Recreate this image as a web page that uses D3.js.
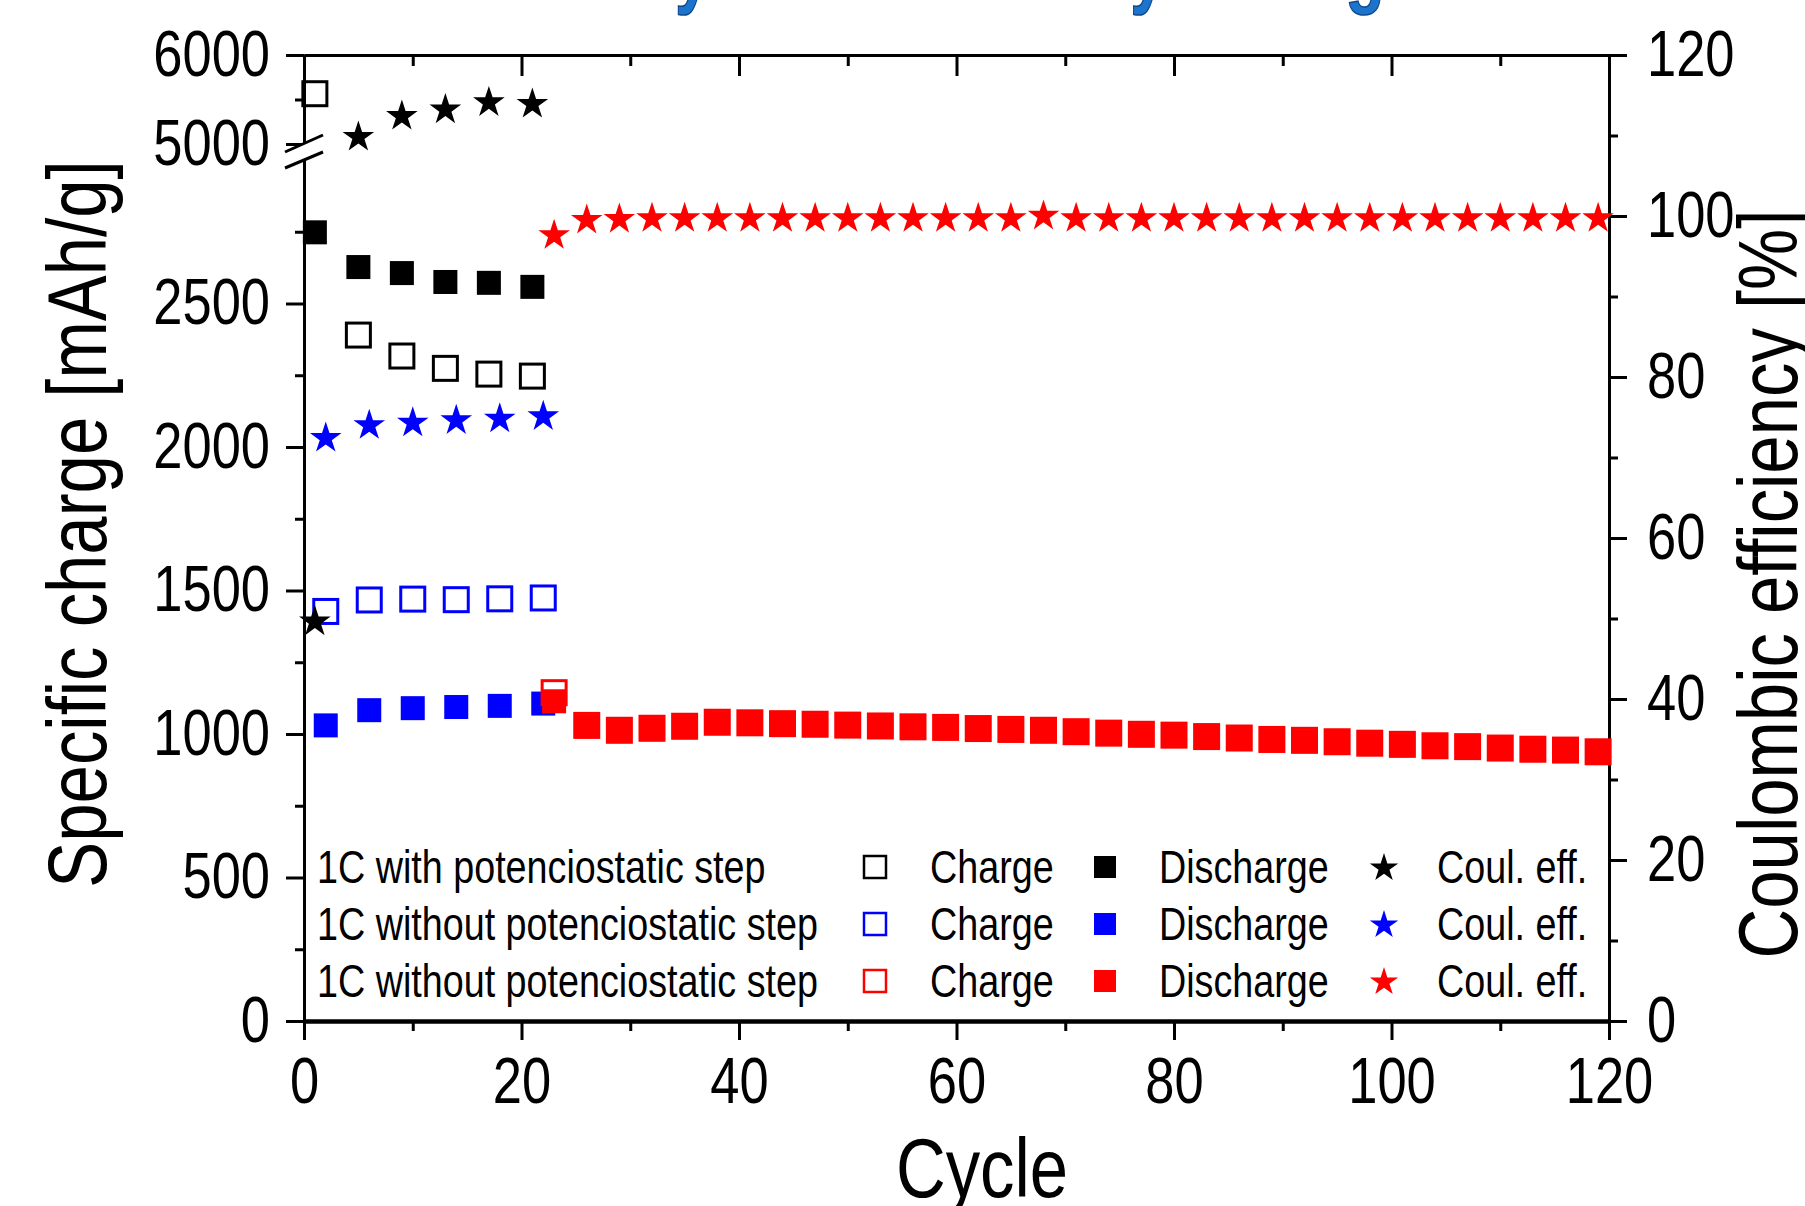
<!DOCTYPE html>
<html>
<head>
<meta charset="utf-8">
<script src="https://cdn.jsdelivr.net/npm/d3@7"></script>
<style>
  body { margin: 0; background: #fff; }
  text { font-family: "Liberation Sans", Arial, sans-serif; }
</style>
</head>
<body>
<script>
// ---------- data ----------
var blackCycles = [1, 5, 9, 13, 17, 21];
var blackCharge = [5565, 2390, 2317, 2274, 2254, 2247];
var blackDischarge = [2748, 2627, 2606, 2575, 2572, 2558];
var blackEff = [49.6, 109.8, 112.4, 113.2, 114.1, 113.9];

var blueCycles = [2, 6, 10, 14, 18, 22];
var blueCharge = [1427, 1467, 1470, 1468, 1471, 1474];
var blueDischarge = [1030, 1083, 1090, 1094, 1098, 1106];
var blueEff = [72.4, 74.0, 74.3, 74.6, 74.8, 75.1];

var redCycles = [23, 26, 29, 32, 35, 38, 41, 44, 47, 50, 53, 56, 59, 62, 65, 68, 71,
  74, 77, 80, 83, 86, 89, 92, 95, 98, 101, 104, 107, 110, 113, 116, 119];
var redCharge = [1144, 1030, 1013, 1020, 1027, 1041, 1039, 1036, 1034, 1031, 1028, 1025,
  1023, 1019, 1016, 1013, 1008, 1003, 999, 996, 991, 986, 981, 978, 973, 968, 964, 959,
  956, 951, 947, 944, 938];
var redDischarge = [1114, 1027, 1010, 1017, 1024, 1038, 1036, 1033, 1031, 1028, 1025, 1022,
  1020, 1016, 1013, 1010, 1005, 1000, 996, 993, 988, 983, 978, 975, 970, 965, 961, 956,
  953, 948, 944, 941, 935];
var redEff = [97.6, 99.5, 99.6, 99.7, 99.7, 99.7, 99.7, 99.7, 99.7, 99.7, 99.7, 99.7,
  99.7, 99.7, 99.7, 100.0, 99.7, 99.7, 99.7, 99.7, 99.7, 99.7, 99.7, 99.7, 99.7, 99.7,
  99.7, 99.7, 99.7, 99.7, 99.7, 99.7, 99.7];

var xMajor = [0, 20, 40, 60, 80, 100, 120];
var xMinor = [10, 30, 50, 70, 90, 110];
var yLowMajor = [0, 500, 1000, 1500, 2000, 2500];
var yLowMinor = [250, 750, 1250, 1750, 2250, 2750];
var yHighMajor = [5000, 6000];
var yHighMinor = [5500];
var effMajor = [0, 20, 40, 60, 80, 100, 120];
var effMinor = [10, 30, 50, 70, 90, 110];

var legendRows = [
  { label: "1C with potenciostatic step", color: "#000000" },
  { label: "1C without potenciostatic step", color: "#0000ff" },
  { label: "1C without potenciostatic step", color: "#ff0000" }
];

// ---------- layout ----------
var W = 1805, H = 1206;
var L = 304, R = 1609, T = 55, B = 1021;
var SX = 0.82;            // narrow font look
var SQ = 24;              // square marker side
var fmt = d3.format("d");

var svg = d3.select("body").append("svg")
  .attr("width", W).attr("height", H);
svg.append("rect").attr("width", W).attr("height", H).attr("fill", "#fff");

var x = d3.scaleLinear().domain([0, 120]).range([L, R]);
var yLow = d3.scaleLinear().domain([0, 3000]).range([B, 160]);
var yHigh = d3.scaleLinear().domain([5000, 6000]).range([144, T]);
var yEff = d3.scaleLinear().domain([0, 120]).range([B, T]);

// left axis value -> pixel with broken scale
function yCharge(v) { return v >= 4000 ? yHigh(v) : yLow(v); }

// ---------- title (mostly cut off at the top) ----------
var title = svg.append("text")
  .attr("font-size", 88)
  .attr("font-weight", "bold")
  .attr("fill", "#1d74cc")
  .attr("stroke", "#0c4a8c")
  .attr("stroke-width", 1.5)
  .text("Stability and Efficiency during Tests");
(function () {
  var node = title.node(), s = title.text();
  function mid(i) { return node.getStartPositionOfChar(i).x + node.getSubStringLength(i, 1) / 2; }
  var c1 = mid(s.indexOf("y")), cg = mid(s.indexOf("g"));
  var k = (1365 - 693) / (cg - c1);
  title.attr("transform", "translate(" + (693 - c1 * k) + ",-3) scale(" + k + ",1)");
})();

// ---------- axes ----------
function styleAxis(g, size) {
  g.attr("font-size", size).attr("font-family", null);
  g.selectAll("path, line").attr("stroke", "#000").attr("stroke-width", 3);
  g.selectAll("text").attr("fill", "#000").each(function () {
    var t = d3.select(this);
    if (t.attr("x") !== null) t.attr("x", +t.attr("x") / SX);
    t.attr("transform", "scale(" + SX + ",1)");
  });
}

function addAxis(axis, tx, ty, size) {
  var g = svg.append("g").attr("transform", "translate(" + tx + "," + ty + ")").call(axis);
  styleAxis(g, size);
  return g;
}

// bottom
var gx = addAxis(d3.axisBottom(x).tickValues(xMajor).tickFormat(fmt).tickSize(19).tickPadding(18).tickSizeOuter(0), 0, B, 64);
gx.select(".domain").attr("stroke-width", 4.5);
addAxis(d3.axisBottom(x).tickValues(xMinor).tickSize(10).tickFormat("").tickSizeOuter(0), 0, B, 64);
// top (inward ticks)
addAxis(d3.axisTop(x).tickValues(xMajor).tickSize(-21).tickFormat("").tickSizeOuter(0), 0, T, 64);
addAxis(d3.axisTop(x).tickValues(xMinor).tickSize(-11).tickFormat("").tickSizeOuter(0), 0, T, 64);
// left, lower segment
addAxis(d3.axisLeft(yLow).tickValues(yLowMajor).tickFormat(fmt).tickSize(18).tickPadding(16).tickSizeOuter(0), L, 0, 64);
addAxis(d3.axisLeft(yLow).tickValues(yLowMinor).tickSize(9).tickFormat("").tickSizeOuter(0), L, 0, 64);
// left, upper segment
addAxis(d3.axisLeft(yHigh).tickValues(yHighMajor).tickFormat(fmt).tickSize(18).tickPadding(16).tickSizeOuter(0), L, 0, 64);
addAxis(d3.axisLeft(yHigh).tickValues(yHighMinor).tickSize(9).tickFormat("").tickSizeOuter(0), L, 0, 64);
// right
addAxis(d3.axisRight(yEff).tickValues(effMajor).tickFormat(fmt).tickSize(18).tickPadding(20).tickSizeOuter(0), R, 0, 64);
addAxis(d3.axisRight(yEff).tickValues(effMinor).tickSize(9).tickFormat("").tickSizeOuter(0), R, 0, 64);

// axis break marks
var brk = svg.append("g").attr("stroke", "#000").attr("stroke-width", 3);
brk.append("polygon")
  .attr("points", [[285, 152], [323, 135], [323, 152], [285, 168]].join(" "))
  .attr("fill", "#fff").attr("stroke", "none");
brk.append("line").attr("x1", 285).attr("y1", 152).attr("x2", 323).attr("y2", 135);
brk.append("line").attr("x1", 285).attr("y1", 168).attr("x2", 323).attr("y2", 152);

// ---------- axis titles ----------
function narrowText(px, py, rot, size, str) {
  return svg.append("text")
    .attr("transform", "translate(" + px + "," + py + ") rotate(" + rot + ") scale(" + SX + ",1)")
    .attr("font-size", size)
    .attr("text-anchor", "middle")
    .attr("fill", "#000")
    .text(str);
}
narrowText(982, 1197, 0, 84, "Cycle");
narrowText(106, 524, -90, 84, "Specific charge [mAh/g]");
narrowText(1797, 584, -90, 84, "Coulombic efficiency [%]");

// ---------- markers ----------
var star = d3.symbol().type(d3.symbolStar).size(310);
var starSmall = d3.symbol().type(d3.symbolStar).size(250);

function drawSquares(cycles, values, color, open) {
  svg.append("g").selectAll("rect")
    .data(cycles.map(function (c, i) { return [c, values[i]]; }))
    .join("rect")
    .attr("x", function (d) { return x(d[0]) - SQ / 2; })
    .attr("y", function (d) { return yCharge(d[1]) - SQ / 2; })
    .attr("width", SQ).attr("height", SQ)
    .attr("fill", open ? "none" : color)
    .attr("stroke", open ? color : "none")
    .attr("stroke-width", 3);
}

function drawStars(cycles, values, color) {
  svg.append("g").selectAll("path")
    .data(cycles.map(function (c, i) { return [c, values[i]]; }))
    .join("path")
    .attr("d", star)
    .attr("transform", function (d) { return "translate(" + x(d[0]) + "," + yEff(d[1]) + ")"; })
    .attr("fill", color);
}

drawSquares(blackCycles, blackCharge, "#000000", true);
drawSquares(blackCycles, blackDischarge, "#000000", false);
drawSquares(blueCycles, blueCharge, "#0000ff", true);
drawSquares(blueCycles, blueDischarge, "#0000ff", false);
drawSquares(redCycles, redCharge, "#ff0000", true);
drawSquares(redCycles, redDischarge, "#ff0000", false);

drawStars(blackCycles, blackEff, "#000000");
drawStars(blueCycles, blueEff, "#0000ff");
drawStars(redCycles, redEff, "#ff0000");

// ---------- legend ----------
var legendY = d3.scaleOrdinal().domain([0, 1, 2]).range([883, 940, 997]);
var leg = svg.append("g");
legendRows.forEach(function (row, i) {
  var by = legendY(i), cy = by - 16, LS = 22;
  leg.append("text")
    .attr("transform", "translate(317," + by + ") scale(" + SX + ",1)")
    .attr("font-size", 46).text(row.label);
  leg.append("rect")
    .attr("x", 875 - LS / 2).attr("y", cy - LS / 2).attr("width", LS).attr("height", LS)
    .attr("fill", "none").attr("stroke", row.color).attr("stroke-width", 2.5);
  leg.append("text")
    .attr("transform", "translate(930," + by + ") scale(" + SX + ",1)")
    .attr("font-size", 46).text("Charge");
  leg.append("rect")
    .attr("x", 1105 - LS / 2).attr("y", cy - LS / 2).attr("width", LS).attr("height", LS)
    .attr("fill", row.color);
  leg.append("text")
    .attr("transform", "translate(1159," + by + ") scale(" + SX + ",1)")
    .attr("font-size", 46).text("Discharge");
  leg.append("path").attr("d", starSmall)
    .attr("transform", "translate(1384," + (cy + 1) + ")")
    .attr("fill", row.color);
  leg.append("text")
    .attr("transform", "translate(1437," + by + ") scale(" + SX + ",1)")
    .attr("font-size", 46).text("Coul. eff.");
});
</script>
</body>
</html>
